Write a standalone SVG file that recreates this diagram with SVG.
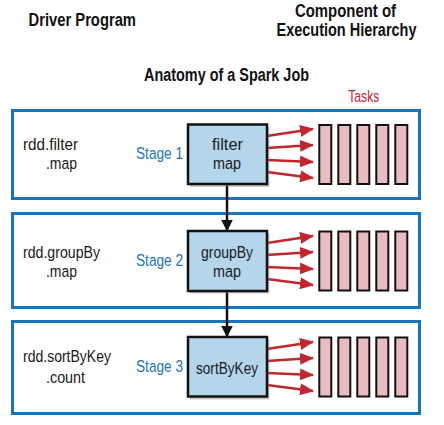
<svg xmlns="http://www.w3.org/2000/svg" width="444" height="425" viewBox="0 0 444 425">
<defs>
<style>
.t{font-family:"Liberation Sans",Arial,sans-serif;font-size:17.2px;fill:#1a1a1a}
.b{font-weight:bold;font-size:17.5px;fill:#111}
.stage{fill:#1b75bb}
.red{fill:#c1272d;font-size:17px}
.box{fill:#ffffff;stroke:#1b75bb;stroke-width:3}
.node{fill:#b4d5ea;stroke:#111;stroke-width:2.5}
.shadow{fill:#888;opacity:0.45}
.task{fill:#ebbcbf;stroke:#111;stroke-width:2}
.ra{stroke:#c1272d;stroke-width:2.5;fill:none;marker-end:url(#rh)}
.ka{stroke:#111;stroke-width:2.5;fill:none;marker-end:url(#kh)}
</style>
<marker id="rh" markerUnits="userSpaceOnUse" markerWidth="14" markerHeight="12" refX="13" refY="6" orient="auto"><path d="M0,0 L14,6 L0,12 Z" fill="#c1272d"/></marker>
<marker id="kh" markerUnits="userSpaceOnUse" markerWidth="12" markerHeight="12" refX="11" refY="6" orient="auto"><path d="M0,0 L12,6 L0,12 Z" fill="#111"/></marker>
<g id="tasks">
<rect class="task" x="319.3" y="125" width="12" height="59"/>
<rect class="task" x="338.3" y="125" width="12" height="59"/>
<rect class="task" x="357.3" y="125" width="12" height="59"/>
<rect class="task" x="376.3" y="125" width="12" height="59"/>
<rect class="task" x="395.3" y="125" width="12" height="59"/>
</g>
</defs>

<g id="headers">
<text class="t b" x="28.5" y="26" textLength="107.5" lengthAdjust="spacingAndGlyphs">Driver Program</text>
<text class="t b" x="295" y="17.3" textLength="101" lengthAdjust="spacingAndGlyphs">Component of</text>
<text class="t b" transform="translate(276.5,36) scale(0.85,1)" x="0" y="0" textLength="164.7" lengthAdjust="spacingAndGlyphs">Execution Hierarchy</text>
<text class="t b" x="144" y="81" textLength="165" lengthAdjust="spacingAndGlyphs">Anatomy of a Spark Job</text>
<text class="t red" x="348.3" y="101.7" textLength="31" lengthAdjust="spacingAndGlyphs">Tasks</text>
</g>

<g id="stage1">
<rect class="box" x="12.5" y="110.5" width="407" height="88"/>
<text class="t" x="23" y="150" textLength="55" lengthAdjust="spacingAndGlyphs">rdd.filter</text>
<text class="t" x="46" y="169" textLength="31" lengthAdjust="spacingAndGlyphs">.map</text>
<text class="t stage" x="136" y="159.3" textLength="47" lengthAdjust="spacingAndGlyphs">Stage 1</text>
</g>
<g id="stage2">
<rect class="box" x="12.5" y="213.5" width="407" height="94"/>
<text class="t" x="23" y="258" textLength="77" lengthAdjust="spacingAndGlyphs">rdd.groupBy</text>
<text class="t" x="46" y="276.5" textLength="31" lengthAdjust="spacingAndGlyphs">.map</text>
<text class="t stage" x="136" y="266" textLength="47" lengthAdjust="spacingAndGlyphs">Stage 2</text>
</g>
<g id="stage3">
<rect class="box" x="12.5" y="321.5" width="407" height="92"/>
<text class="t" x="23" y="361.7" textLength="88" lengthAdjust="spacingAndGlyphs">rdd.sortByKey</text>
<text class="t" x="46" y="382.7" textLength="39" lengthAdjust="spacingAndGlyphs">.count</text>
<text class="t stage" x="136" y="371.7" textLength="47" lengthAdjust="spacingAndGlyphs">Stage 3</text>
</g>

<g id="connectors">
<line class="ka" x1="227" y1="184" x2="227" y2="230.5"/>
<line class="ka" x1="227" y1="291" x2="227" y2="336.5"/>
<line class="ra" x1="267" y1="136" x2="313" y2="129"/>
<line class="ra" x1="267" y1="148" x2="313" y2="145"/>
<line class="ra" x1="267" y1="160" x2="313" y2="162"/>
<line class="ra" x1="267" y1="172" x2="313" y2="178"/>
<line class="ra" x1="267" y1="243" x2="313" y2="236"/>
<line class="ra" x1="267" y1="255" x2="313" y2="252"/>
<line class="ra" x1="267" y1="267" x2="313" y2="269"/>
<line class="ra" x1="267" y1="279" x2="313" y2="285"/>
<line class="ra" x1="267" y1="349" x2="313" y2="342"/>
<line class="ra" x1="267" y1="361" x2="313" y2="358"/>
<line class="ra" x1="267" y1="373" x2="313" y2="375"/>
<line class="ra" x1="267" y1="385" x2="313" y2="391"/>
</g>

<g id="node-filter">
<rect class="shadow" x="190" y="127" width="79.5" height="60"/>
<rect class="node" x="188" y="124.5" width="79" height="59.5"/>
<text class="t" x="212" y="149.5" textLength="31" lengthAdjust="spacingAndGlyphs">filter</text>
<text class="t" x="213" y="168.5" textLength="28" lengthAdjust="spacingAndGlyphs">map</text>
</g>
<g id="node-groupby">
<rect class="shadow" x="190" y="233.5" width="79.5" height="60"/>
<rect class="node" x="188" y="231" width="79" height="60"/>
<text class="t" x="201" y="258" textLength="52" lengthAdjust="spacingAndGlyphs">groupBy</text>
<text class="t" x="213" y="276.5" textLength="28" lengthAdjust="spacingAndGlyphs">map</text>
</g>
<g id="node-sortbykey">
<rect class="shadow" x="190" y="339.5" width="79.5" height="60"/>
<rect class="node" x="188" y="337" width="79" height="59.5"/>
<text class="t" x="196" y="374" textLength="62" lengthAdjust="spacingAndGlyphs">sortByKey</text>
</g>

<g id="tasks-1"><use href="#tasks"/></g>
<g id="tasks-2"><use href="#tasks" y="106.5"/></g>
<g id="tasks-3"><use href="#tasks" y="212.5"/></g>
</svg>
